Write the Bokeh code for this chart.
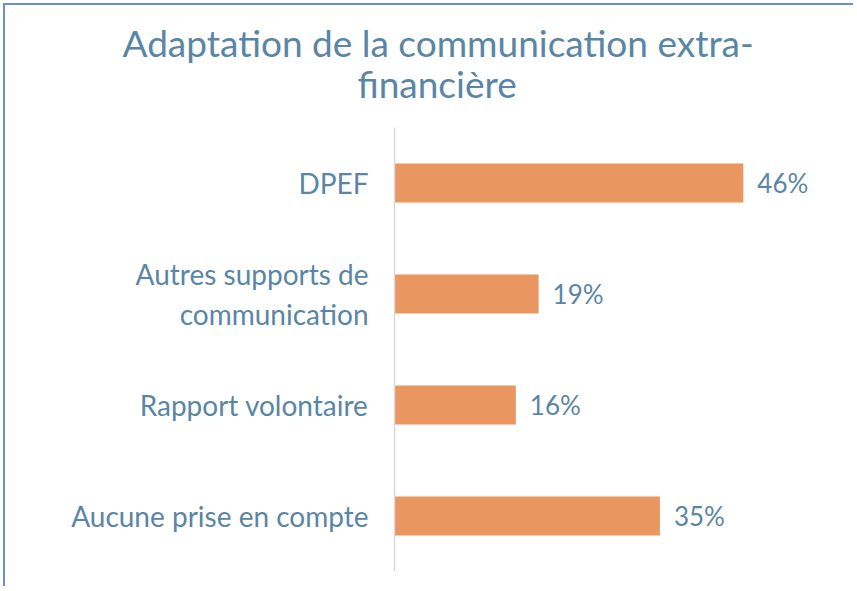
from bokeh.plotting import figure
from bokeh.models import FactorRange, Range1d, Title, ColumnDataSource
from bokeh.core.properties import value
from bokeh.embed import file_html
from bokeh.resources import INLINE

categories = ["DPEF", "Autres supports de\ncommunication", "Rapport volontaire", "Aucune prise en compte"]
values = [46, 19, 16, 35]
value_labels = ["46%", "19%", "16%", "35%"]
title_lines = ["Adaptation de la communication extra-", "financière"]

TEXT = "#5A86A6"
BAR = "#EA9661"
FONT = "Lato"

src = ColumnDataSource(dict(cat=categories, val=values, lab=value_labels))

p = figure(width=850, height=583, output_backend="svg", toolbar_location=None,
           y_range=FactorRange(factors=categories[::-1]), x_range=Range1d(0, 60),
           min_border_left=389, min_border_top=122, min_border_bottom=17, min_border_right=6)
p.hbar(y="cat", right="val", left=0, height=0.35, source=src, color=BAR, line_color=None)
p.text(x="val", y="cat", text="lab", source=src, x_offset=14, text_baseline="middle",
       text_align="left", text_color=TEXT, text_font=value(FONT), text_font_size="26px")

p.xaxis.visible = False
p.xgrid.visible = False
p.ygrid.visible = False
p.outline_line_color = None
ax = p.yaxis[0]
ax.axis_line_color = "#D9D9D9"
ax.axis_line_width = 1.5
ax.major_tick_line_color = None
ax.minor_tick_line_color = None
ax.major_label_standoff = 20
ax.major_label_text_color = TEXT
ax.major_label_text_font = FONT
ax.major_label_text_font_size = "28px"

# title: line nearest the frame is added first
p.add_layout(Title(text=title_lines[1], align="left", offset=-37, standoff=44,
                   text_color=TEXT, text_font=FONT, text_font_size="37px",
                   text_font_style="normal"), "above")
p.add_layout(Title(text=title_lines[0], align="left", offset=-272, standoff=-57,
                   text_color=TEXT, text_font=FONT, text_font_size="37px",
                   text_font_style="normal"), "above")

p.styles = {"border-left": "2px solid #6A8ED0", "border-top": "2px solid #6A8ED0",
            "margin-left": "3px", "margin-top": "3px"}

open("out.html", "w").write(file_html(p, INLINE))
